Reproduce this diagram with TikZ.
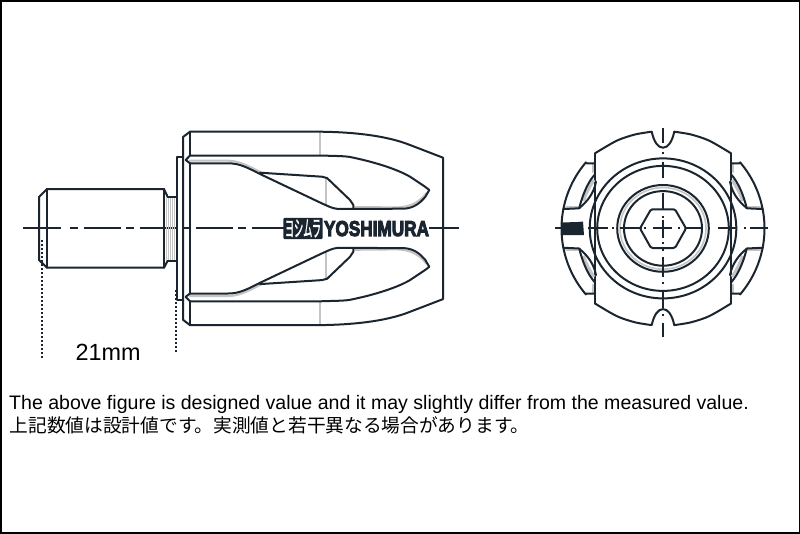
\documentclass[tikz,border=0pt]{standalone}
\usepackage{fontspec}
\usepackage{graphicx}
\setmainfont{Liberation Sans}
\newfontfamily\cjkjp{Noto Sans CJK JP}
\newfontfamily\cjkbold[FakeBold=2]{Noto Sans CJK JP}
\newfontfamily\logofont[FakeBold=5]{Liberation Sans Bold}
\definecolor{ink}{HTML}{1B2530}
\definecolor{pale}{HTML}{C4C4C4}
\tikzset{
  ln/.style={draw=ink,line width=2pt,line join=round,line cap=round},
  thin ln/.style={draw=ink,line width=1.9pt,line cap=butt},
  gr/.style={draw=pale,line width=2pt,line cap=round},
  dotline/.style={draw=ink,line width=2.4pt,dash pattern=on 2pt off 2pt},
  label/.style={inner sep=0pt,anchor=base west,text=black},
  flipy/.style={shift={(0,456.8)},yscale=-1},
  flipx/.style={shift={(1326,0)},xscale=-1}
}
\newcommand{\bodyhalf}{%
  % gray construction lines
  \draw[gr] (190,160.7) -- (228.3,160.7) .. controls (238,161) and (245,164) .. (261.7,172.7);
  \draw[gr] (320,132) -- (320,155);
  \draw[gr] (326,178) -- (326,204);
  \draw[gr] (355,207) -- (397,207.4) .. controls (408,207) and (418,204) .. (426.5,193);
  % outline
  \draw[ln] (183,228.4) -- (183,137) -- (190,131.7) -- (320,131.7)
     .. controls (350,132) and (385,135) .. (410,145) -- (443,157.7) -- (443,228.4);
  \draw[ln] (190,131.7) -- (190,155.5);
  \draw[ln] (176.7,228.4) -- (176.7,157) -- (182,157);
  % slot
  \draw[ln] (185.7,160) -- (190,155.5) -- (320,155.5)
     .. controls (335,156) and (345,156) .. (350,157)
     .. controls (370,161) and (395,168) .. (410,176.7) -- (425,186.7) -- (429.3,190)
     -- (425,197.3) .. controls (420,203) and (414,208) .. (404,208.7) -- (353.3,208.9)
     -- (338.3,209) .. controls (332,208.5) and (328,206) .. (321.7,203.3)
     -- (260,174) .. controls (248,168) and (240,163.3) .. (228.3,163.3)
     -- (190,163.3) -- (185.7,160);
  % pocket
  \draw[ln] (260,172.7) -- (322,176.7) -- (327,178) -- (350,200) -- (353.3,205) -- (353.3,208.9);
}
\newcommand{\lobe}{%
  \draw[gr] (593,164.5) -- (593,172);
  \draw[gr] (566,207) -- (578,207);
  \draw[pale,line width=3pt] (583.5,201) .. controls (586,193) and (590,186) .. (594,180);
  \draw[ln] (595,163.3) -- (586.7,163.3) -- plot[domain=220.5:191,samples=20,smooth] ({663+101.5*cos(\x)},{228.4+101.5*sin(\x)}) -- (579.3,208.3);
  \draw[ln] (579.3,208) .. controls (582,197) and (587,183) .. (595,174.3);
  \draw[ln] (579.3,208) .. controls (587,202) and (594,193) .. (596,181.7);
}
\begin{document}
\begin{tikzpicture}[x=1pt,y=-1pt]
\useasboundingbox (0,0) rectangle (800,533);
\fill[white] (0,0) rectangle (800,533);
\draw[black,line width=3pt] (0,0) rectangle (800,533);

% ---- side view ----
% centre line
\draw[thin ln] (23,228.4) -- (61,228.4);
\draw[thin ln,dash pattern=on 8pt off 5.5pt on 37pt off 5.5pt] (70,228.4) -- (284,228.4);
\draw[thin ln] (429,228.4) -- (459,228.4);
% threads
\foreach \tx in {166,168,170,172,174}{\draw[pale,line width=.8pt] (\tx,198) -- (\tx,260);}
% stud
\draw[ln] (167.7,197) -- (176,197);
\draw[ln] (167.7,260.7) -- (176,260.7);
\draw[ln] (167.7,197) -- (164,189) -- (47,189) -- (39,197) -- (39,260) -- (47,267.7) -- (164,267.7) -- (167.7,260.7);
\draw[ln] (47,189) -- (47,267.7);
\draw[ln] (164,189) -- (164,267.7);
% body halves
\bodyhalf
\begin{scope}[flipy]\bodyhalf\end{scope}
\draw[ln] (190,163.3) -- (190,293.5);
% dimension dotted lines
\coordinate (dimLa) at (41.7,240);
\coordinate (dimLb) at (41.7,358);
\coordinate (dimRa) at (175.7,290);
\coordinate (dimRb) at (175.7,352);
\draw[dotline] (dimLa) -- (dimLb);
\draw[dotline] (dimRa) -- (dimRb);
% logo
\node[fill=ink,rounded corners=1.2pt,minimum width=39.4pt,minimum height=21.3pt,inner sep=0pt] (logomark) at (303,228.4) {};
\node[inner sep=0pt,text=white] (logojp) at (303,228.4) {\resizebox{36pt}{17pt}{\cjkbold ヨシムラ}};
\node[inner sep=0pt,text=ink] (logoword) at (376.5,228.6) {\resizebox{105pt}{15pt}{\logofont YOSHIMURA}};

% ---- end view ----
% circles
\draw[ln] (663,228.4) ellipse [x radius=73.3,y radius=70];
\draw[ln] (663,228.4) ellipse [x radius=65.8,y radius=62.5];
\draw[pale,line width=1.6pt] (663,228.4) ellipse [x radius=43,y radius=40.8];
\draw[ln] (663,228.4) ellipse [x radius=45.8,y radius=43.4];
\draw[ln] (663,228.4) ellipse [x radius=39,y radius=37.3];
% hex socket
\draw[ln,rounded corners=1.5pt] (640,228.4) -- (651,209.3) -- (675,209.3) -- (686,228.4) -- (675,248) -- (651,248) -- cycle;
% body
\draw[ln] (595,153.3) -- (595,303.5);
\draw[ln] (731,153.3) -- (731,303.5);
\newcommand{\topcap}{%
  \draw[ln] plot[smooth] coordinates {(595,153.3) (616.7,140.7) (635,134.5) (651.7,131.7)}
    .. controls (654,142) and (658,147.7) .. (663,147.7)
    .. controls (668,147.7) and (672,142) .. (674.3,131.7);
  \draw[ln] plot[smooth] coordinates {(674.3,131.7) (691,134.5) (709.3,140.7) (731,153.3)};
}
\topcap
\begin{scope}[flipy]\topcap\end{scope}
% side lobes
\lobe
\begin{scope}[flipy]\lobe\end{scope}
\begin{scope}[flipx]\lobe\end{scope}
\begin{scope}[flipx,flipy]\lobe\end{scope}
\draw[ln] plot[domain=191:169,samples=12,smooth] ({663+101.5*cos(\x)},{228.4+101.5*sin(\x)});
\draw[ln] plot[domain=-11:11,samples=12,smooth] ({663+101.5*cos(\x)},{228.4+101.5*sin(\x)});
% horizontal centre line
\foreach \a/\b in {555/570,588/608,620/640,653.3/671.7,685/703,718/737,750/768}{\draw[thin ln] (\a,228.4) -- (\b,228.4);}
\foreach \a in {613,645,679,709,745}{\draw[thin ln] (\a-1,228.4) -- (\a+1,228.4);}
% vertical centre line
\foreach \a/\b in {128/143,161.7/178,192.7/210,220/238.3,256.7/276.7,291.7/308,323/336.7}{\draw[thin ln] (663,\a) -- (663,\b);}
\foreach \a in {152.7,217,243,250,283,315}{\draw[thin ln] (663,\a-1) -- (663,\a+1);}
% compressed logo seen end-on
\fill[ink] (561.7,222.5) -- (578,222) -- (583,221.5) -- (584,235) -- (562,235) -- cycle;

% ---- text ----
\node[label,font=\fontsize{23.4pt}{26pt}\selectfont] (dim) at (75.5,360) {21mm};
\node[label,font=\fontsize{19.55pt}{22pt}\selectfont] (noteen) at (9,409) {The above figure is designed value and it may slightly differ from the measured value.};
\node[label,font=\cjkjp\fontsize{18.7pt}{22pt}\selectfont] (notejp) at (9.5,432) {上記数値は設計値です。実測値と若干異なる場合があります。};
\end{tikzpicture}
\end{document}
